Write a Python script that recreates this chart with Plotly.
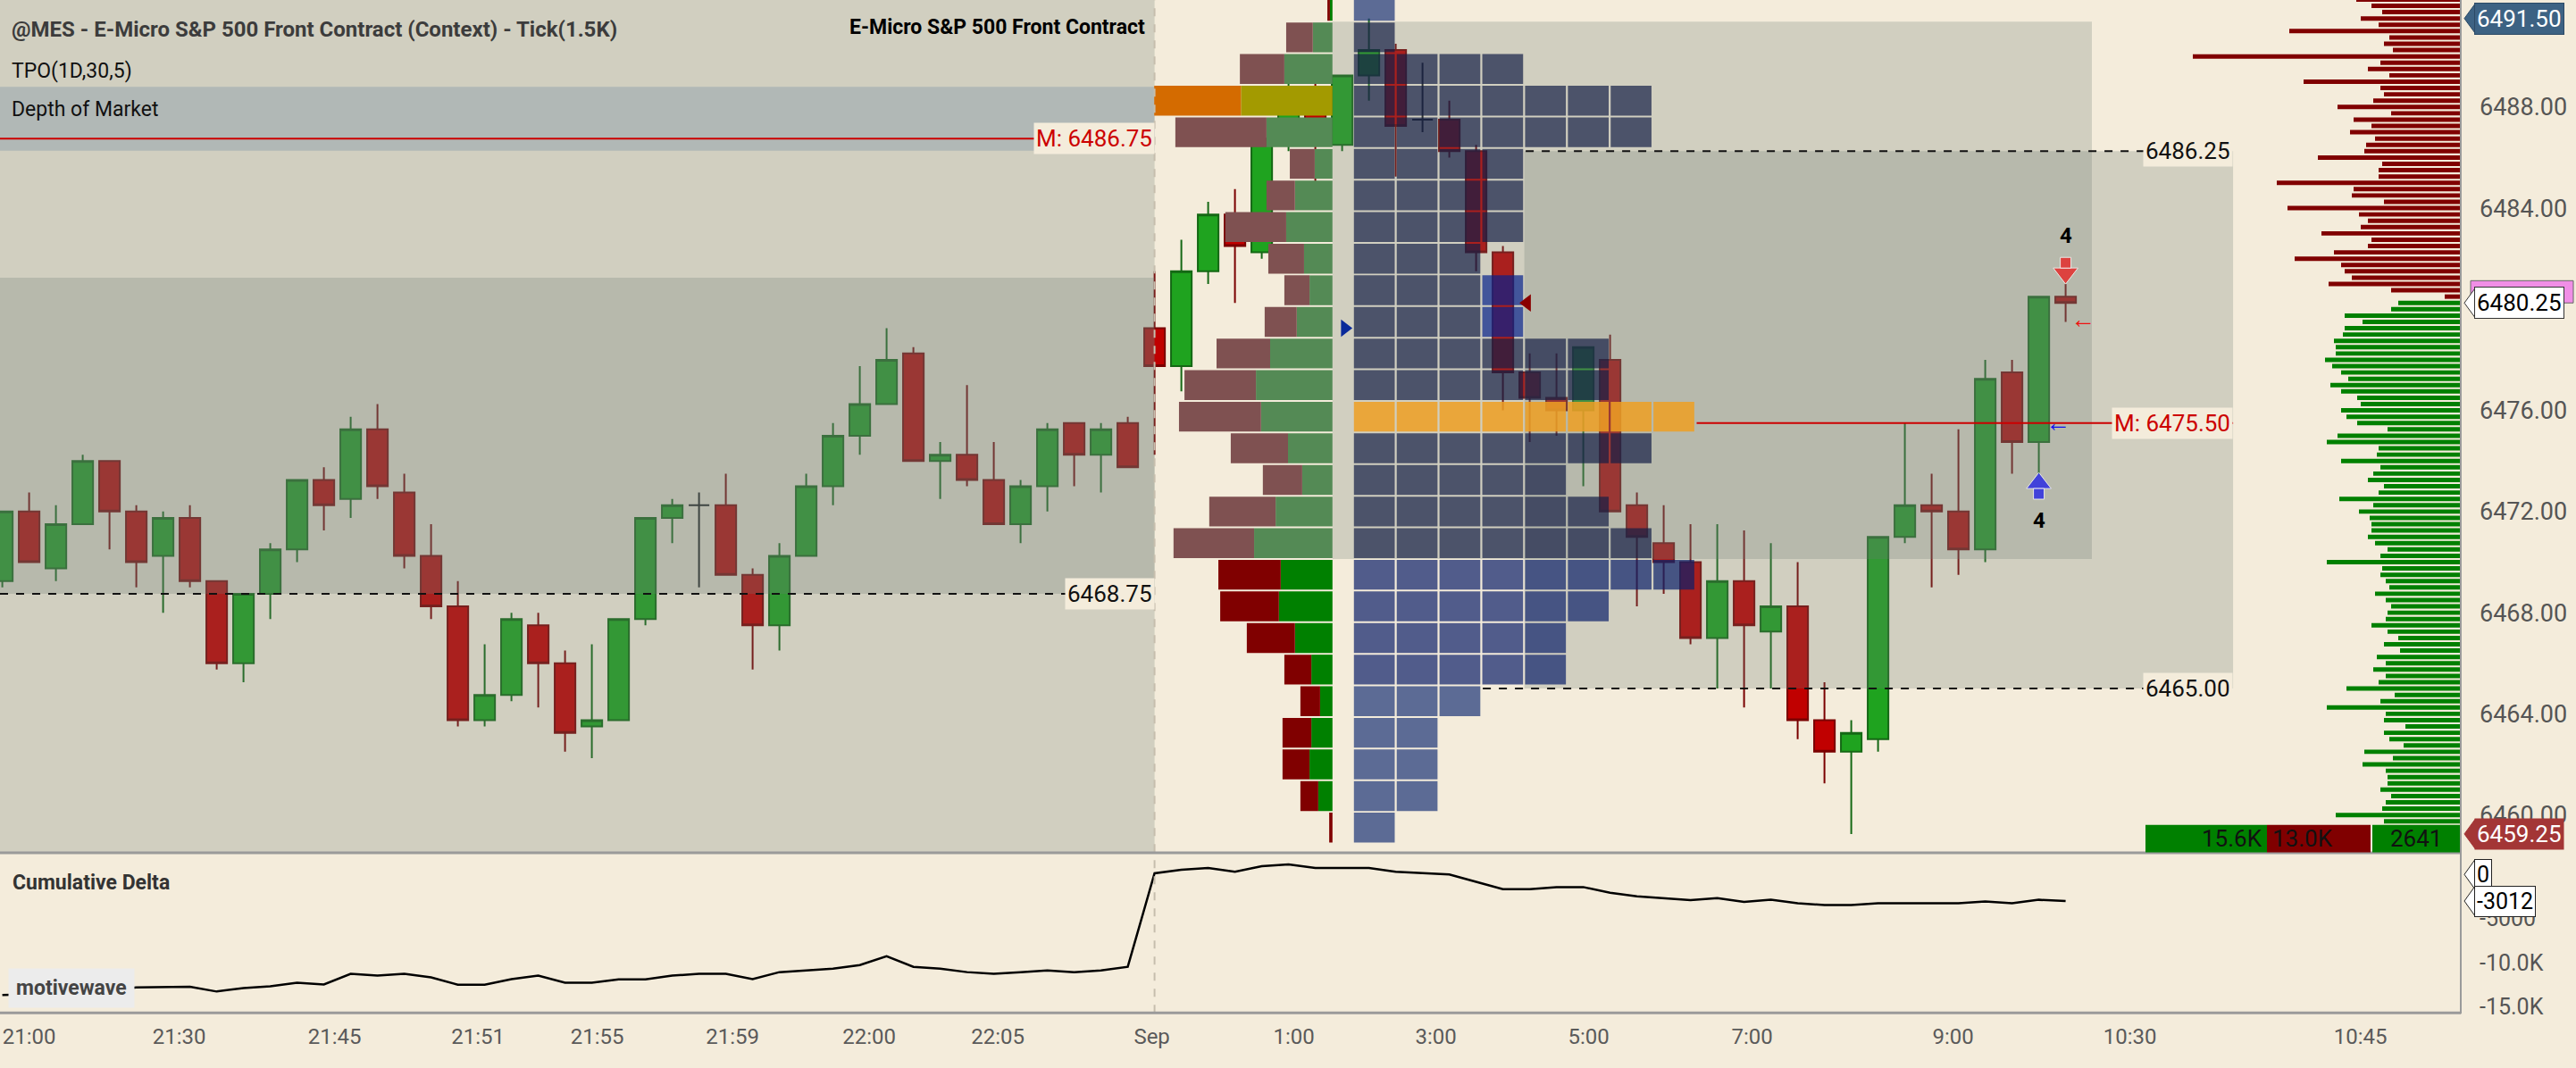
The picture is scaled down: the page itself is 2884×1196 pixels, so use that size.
import plotly.graph_objects as go

# ---- 1.5K tick bars (index 0 = first bar on screen) ----
OPEN = [6469.25, 6472.0, 6469.75, 6471.5, 6474.0, 6472.0, 6470.25, 6471.75, 6469.25, 6466.0,
        6468.75, 6470.5, 6473.25, 6472.5, 6475.25, 6472.75, 6470.25, 6468.25, 6463.75, 6464.75,
        6467.5, 6466.0, 6463.5, 6463.75, 6467.75, 6471.75, 6472.25, 6472.25, 6469.5, 6467.5,
        6470.25, 6473.0, 6475.0, 6476.25, 6478.25, 6474.0, 6474.25, 6473.25, 6471.5, 6473.0,
        6475.5, 6474.25, 6475.5, 6479.25, 6477.75, 6481.5, 6483.75, 6482.25, 6486.5, 6488.5,
        6486.5, 6489.25, 6490.25, 6487.5, 6487.5, 6486.25, 6482.25, 6477.5, 6476.5, 6476.0,
        6478.0, 6472.25, 6470.75, 6470.0, 6467.0, 6469.25, 6467.25, 6468.25, 6463.75, 6462.5,
        6463.0, 6471.0, 6472.25, 6472.0, 6470.5, 6477.5, 6474.75, 6480.5]
HIGH = [6472.0, 6472.75, 6472.25, 6474.25, 6474.0, 6472.25, 6472.0, 6472.25, 6469.25, 6468.75,
        6470.75, 6473.25, 6473.75, 6475.75, 6476.25, 6473.5, 6471.5, 6469.25, 6466.75, 6468.0,
        6468.0, 6466.5, 6466.75, 6467.75, 6471.75, 6472.5, 6472.75, 6473.5, 6469.75, 6470.75,
        6473.5, 6475.5, 6477.75, 6479.25, 6478.5, 6474.75, 6477.0, 6474.75, 6473.25, 6475.5,
        6475.5, 6475.5, 6475.75, 6481.5, 6482.75, 6484.25, 6484.75, 6487.0, 6489.0, 6489.0,
        6489.25, 6491.5, 6490.5, 6489.75, 6488.25, 6486.5, 6482.5, 6478.25, 6478.25, 6478.5,
        6479.0, 6472.75, 6472.25, 6471.5, 6471.5, 6471.25, 6470.75, 6470.0, 6465.25, 6463.75,
        6471.0, 6475.5, 6473.5, 6475.25, 6478.0, 6478.0, 6480.5, 6481.0]
LOW = [6469.0, 6470.0, 6469.25, 6471.5, 6470.5, 6469.0, 6468.0, 6469.0, 6465.75, 6465.25,
       6467.75, 6470.0, 6471.25, 6471.75, 6472.5, 6469.75, 6467.75, 6463.5, 6463.5, 6464.5,
       6464.25, 6462.5, 6462.25, 6463.75, 6467.5, 6470.75, 6469.0, 6469.5, 6465.75, 6466.5,
       6470.25, 6472.25, 6474.25, 6476.25, 6474.0, 6472.5, 6473.0, 6471.5, 6470.75, 6472.0,
       6473.0, 6472.75, 6473.75, 6474.25, 6476.75, 6481.0, 6480.25, 6482.0, 6486.25, 6484.0,
       6486.25, 6488.25, 6485.25, 6487.0, 6486.0, 6481.5, 6476.0, 6474.75, 6475.0, 6473.0,
       6472.0, 6468.25, 6468.75, 6466.75, 6465.0, 6464.25, 6465.0, 6463.0, 6461.25, 6459.25,
       6462.5, 6470.75, 6469.0, 6469.5, 6470.0, 6473.5, 6473.5, 6479.5]
CLOSE = [6472.0, 6470.0, 6471.5, 6474.0, 6472.0, 6470.0, 6471.75, 6469.25, 6466.0, 6468.75,
         6470.5, 6473.25, 6472.25, 6475.25, 6473.0, 6470.25, 6468.25, 6463.75, 6464.75, 6467.75,
         6466.0, 6463.25, 6463.75, 6467.75, 6471.75, 6472.25, 6472.25, 6469.5, 6467.5, 6470.25,
         6473.0, 6475.0, 6476.25, 6478.0, 6474.0, 6474.25, 6473.25, 6471.5, 6473.0, 6475.25,
         6474.25, 6475.25, 6473.75, 6477.75, 6481.5, 6483.75, 6482.5, 6486.75, 6488.5, 6486.5,
         6489.25, 6490.25, 6487.25, 6487.5, 6486.25, 6482.25, 6477.5, 6476.5, 6476.0, 6478.5,
         6472.0, 6471.0, 6470.0, 6467.0, 6469.25, 6467.5, 6468.25, 6463.75, 6462.5, 6463.25,
         6471.0, 6472.25, 6472.0, 6470.5, 6477.25, 6474.75, 6480.5, 6480.25]
DOJI_BARS = [26, 53]

CUM_DELTA = [-13670, -13600, -13500, -13350, -13150, -12800, -12730, -12730, -13270, -12870,
             -12670, -12270, -12470, -11270, -11470, -11270, -11670, -12500, -12500, -11870,
             -11470, -12270, -12270, -11900, -11900, -11470, -11270, -11270, -11870, -11070,
             -10870, -10670, -10270, -9270, -10470, -10670, -11070, -11270, -11070, -10870,
             -11070, -10870, -10470, 130, 530, 730, 300, 930, 1130, 730,
             730, 730, 300, 170, 0, -830, -1670, -1670, -1430, -1430,
             -2070, -2470, -2700, -2900, -2670, -3100, -2870, -3270, -3470, -3470,
             -3270, -3270, -3270, -3270, -3070, -3270, -2870, -3012]

TIME_TICK_POS = [1.0, 6.6, 12.4, 17.75, 22.2, 27.25, 32.35, 37.15, 42.9, 48.2, 53.5, 59.2, 65.3, 72.8, 79.4, 88.0]
TIME_TICK_TEXT = ["21:00", "21:30", "21:45", "21:51", "21:55", "21:59", "22:00", "22:05", "Sep",
                  "1:00", "3:00", "5:00", "7:00", "9:00", "10:30", "10:45"]
PRICE_TICKS = [6460, 6464, 6468, 6472, 6476, 6484, 6488]   # 6480 sits under the last-price tag
DELTA_TICKS = [-5000, -10000, -15000]
DELTA_TICK_TEXT = ["-5000", "-10.0K", "-15.0K"]

# ---- session volume profile / TPO, 1.25 pt rows from the top ----
PROFILE_TOP = 6492.0
PROFILE_ROW = 1.25
PROFILE_SELL = [14, 146, 244, 476, 500, 136, 156, 334, 196, 138, 176, 294, 392, 450,
                314, 216, 364, 442, 342, 322, 264, 148, 108, 158, 148, 98, 18]
PROFILE_BUY = [14, 108, 264, 502, 362, 98, 206, 254, 156, 126, 196, 342, 420, 392,
               244, 166, 312, 430, 284, 294, 206, 116, 68, 116, 126, 78, 0]
PROFILE_POC = 6488.25
PROFILE_VAH = 6490.75
PROFILE_VAL = 6470.75
TPO_COUNTS = [1, 1, 4, 7, 7, 4, 4, 4, 3, 4, 4, 6, 6, 8, 7, 5, 6, 7, 8, 6, 5, 5, 3, 2, 2, 2, 1]
TPO_POC = 6475.75
TPO_HILITE = [(6480.75, 3), (6479.5, 3)]

# ---- depth of market, 0.25 pt ladder from the top ----
ASK_TOP = 6492.25
ASK_SIZES = [117, 100, 88, 112, 92, 192, 80, 86, 76, 300, 90, 104, 80, 176, 90, 86, 98, 138, 78, 120,
             100, 124, 96, 106, 108, 160, 88, 92, 92, 206, 120, 122, 86, 194, 114, 104, 112, 156, 100, 104,
             142, 186, 134, 130, 122, 148, 78, 18]
BID_TOP = 6480.25
BID_SIZES = [70, 78, 130, 110, 130, 132, 142, 140, 140, 152, 144, 134, 126, 146, 134, 116, 112, 134, 128, 116,
             82, 138, 150, 92, 94, 134, 90, 98, 104, 86, 92, 136, 98, 114,
             102, 100, 100, 104, 96, 82, 90, 150, 88, 90, 84, 80, 96, 84, 78, 82, 84, 100, 82, 70, 86,
             68, 94, 84, 98, 84, 92, 128, 74, 90, 150, 84, 86, 62, 86, 80, 64, 108, 76, 110, 84, 82, 82,
             90, 78, 84, 88, 140, 86]
DOM_TOTALS = ["15.6K", "13.0K", "2641"]

# ---- levels ----
PRIOR_VAH, PRIOR_VAL, PRIOR_MID = 6481.25, 6468.75, 6486.75
VAH, VAL, MID = 6486.25, 6465.0, 6475.5
DAY_HIGH, DAY_LOW, LAST = 6491.5, 6459.25, 6480.25
SIGNALS = [(76, "buy", "4"), (77, "sell", "4")]

# ---- geometry / style ----
W, H = 2884, 1196
PLOT_W = 2755
BAR_PX, BAR0_PX = 30.0, 2.6
X_RANGE = [-BAR0_PX / BAR_PX, (PLOT_W - BAR0_PX) / BAR_PX]
PRICE_RANGE = [6458.52, 6492.23]
DELTA_RANGE = [-15700, 2300]
SESSION_SPLIT = 43.0
PROFILE_RIGHT = 49.64
PROFILE_PX_PER_VOL = 1 / 4.9
ZONE_A_RIGHT = 77.98
ZONE_B = (56.8, 83.25)
TPO_X0, TPO_PITCH, TPO_W = 50.44, 1.597, 1.523
DOM_PX_PER_LOT = 1.0
FONT = "Roboto"
CREAM = "#f4ecdb"
SHADE = "rgba(107,124,116,0.26)"
PX_TOP = lambda px: 1 - px / H

fig = go.Figure()

# candles
reg = [i for i in range(len(OPEN)) if i not in DOJI_BARS]
fig.add_trace(go.Candlestick(
    x=reg, open=[OPEN[i] for i in reg], high=[HIGH[i] for i in reg],
    low=[LOW[i] for i in reg], close=[CLOSE[i] for i in reg],
    increasing=dict(fillcolor="#1fa31f", line=dict(color="#146814", width=2)),
    decreasing=dict(fillcolor="#c00000", line=dict(color="#7a0000", width=2)),
    whiskerwidth=0, hoverinfo="skip", showlegend=False, xaxis="x", yaxis="y"))
fig.add_trace(go.Candlestick(
    x=DOJI_BARS, open=[OPEN[i] for i in DOJI_BARS], high=[HIGH[i] for i in DOJI_BARS],
    low=[LOW[i] for i in DOJI_BARS], close=[CLOSE[i] for i in DOJI_BARS],
    increasing=dict(fillcolor="#1a1a1a", line=dict(color="#1a1a1a", width=2)),
    decreasing=dict(fillcolor="#1a1a1a", line=dict(color="#1a1a1a", width=2)),
    whiskerwidth=0, hoverinfo="skip", showlegend=False, xaxis="x", yaxis="y"))


def box(x0, x1, y0, y1):
    return [x0, x1, x1, x0, x0, None], [y0, y0, y1, y1, y0, None]


def fill_trace(xs, ys, color):
    return go.Scatter(x=xs, y=ys, mode="lines", fill="toself", fillcolor=color,
                      line=dict(width=0), hoverinfo="skip", showlegend=False,
                      xaxis="x", yaxis="y")


# value area shading (semi transparent, stacks where zones overlap)
half = PROFILE_ROW / 2
zones = [
    (X_RANGE[0], SESSION_SPLIT, PRICE_RANGE[0], PRICE_RANGE[1]),
    (X_RANGE[0], SESSION_SPLIT, PRIOR_VAL, PRIOR_VAH),
    (PROFILE_RIGHT, ZONE_A_RIGHT, PROFILE_VAL - half, PROFILE_VAH + half),
    (ZONE_B[0], ZONE_B[1], VAL, VAH),
]
for z in zones:
    xs, ys = box(*z)
    fig.add_trace(fill_trace(xs, ys, SHADE))

# TPO blocks
rows = [PROFILE_TOP - i * PROFILE_ROW for i in range(len(TPO_COUNTS))]
groups = {}
for p, n in zip(rows, TPO_COUNTS):
    for c in range(n):
        if p == TPO_POC:
            col = "rgba(238,160,36,0.86)"
        elif (p, c) in TPO_HILITE:
            col = "rgba(5,33,140,0.7)"
        elif PROFILE_VAL <= p <= PROFILE_VAH:
            col = "rgba(20,30,70,0.7)"
        elif VAL < p < PROFILE_VAL:
            col = "rgba(12,32,105,0.7)"
        else:
            col = "rgba(27,52,119,0.7)"
        x0 = TPO_X0 + c * TPO_PITCH
        xs, ys = box(x0, x0 + TPO_W, p - 0.59, p + 0.59)
        gx, gy = groups.setdefault(col, ([], []))
        gx.extend(xs)
        gy.extend(ys)
for col, (gx, gy) in groups.items():
    fig.add_trace(fill_trace(gx, gy, col))


def hline(x0, x1, y, color, dash=None, width=2):
    fig.add_trace(go.Scatter(x=[x0, x1], y=[y, y], mode="lines",
                             line=dict(color=color, width=width, dash=dash),
                             hoverinfo="skip", showlegend=False, xaxis="x", yaxis="y"))


hline(X_RANGE[0], SESSION_SPLIT, PRIOR_VAL, "#111111", "dash")
hline(X_RANGE[0], SESSION_SPLIT, PRIOR_MID, "#cc0000")
hline(56.85, ZONE_B[1], VAH, "#111111", "dash")
hline(55.25, ZONE_B[1], VAL, "#111111", "dash")
hline(63.23, ZONE_B[1], MID, "#cc0000")

# profile / session markers
fig.add_trace(go.Scatter(x=[50.1], y=[6479.25], mode="markers",
                         marker=dict(symbol="triangle-right", size=17, color="#0a2a9a"),
                         hoverinfo="skip", showlegend=False, xaxis="x", yaxis="y"))
fig.add_trace(go.Scatter(x=[56.9], y=[6480.25], mode="markers",
                         marker=dict(symbol="triangle-left", size=17, color="#8a0000"),
                         hoverinfo="skip", showlegend=False, xaxis="x", yaxis="y"))

# signal arrows
for k, kind, txt in SIGNALS:
    if kind == "buy":
        ys = [LOW[k] - 0.38, LOW[k] - 0.8]
        ty, col, sym = LOW[k] - 1.85, "#1010ee", "triangle-up"
    else:
        ys = [HIGH[k] + 0.42, HIGH[k] + 0.84]
        ty, col, sym = HIGH[k] + 1.9, "#ee1111", "triangle-down"
    fig.add_trace(go.Scatter(x=[k, k], y=ys, mode="markers",
                             marker=dict(symbol=[sym, "square"], size=[24, 12], color=col),
                             hoverinfo="skip", showlegend=False, xaxis="x", yaxis="y"))
    fig.add_annotation(x=k, y=ty, xref="x", yref="y", text="<b>" + txt + "</b>", showarrow=False,
                       font=dict(family=FONT, size=24, color="#000000"))

# volume profile (drawn above candles)
prof_sell_col, prof_buy_col = [], []
for p in rows:
    if p == PROFILE_POC:
        prof_sell_col.append("#d46b00")
        prof_buy_col.append("#a39a00")
    elif PROFILE_VAL <= p <= PROFILE_VAH and p != PROFILE_TOP:
        prof_sell_col.append("#7f5151")
        prof_buy_col.append("#548a55")
    else:
        prof_sell_col.append("#800000")
        prof_buy_col.append("#008000")
fig.add_trace(go.Bar(y=rows, x=PROFILE_BUY, base=[0] * len(rows), orientation="h",
                     width=PROFILE_ROW - 0.07, marker=dict(color=prof_buy_col, line=dict(width=0)),
                     hoverinfo="skip", showlegend=False, xaxis="x2", yaxis="y"))
fig.add_trace(go.Bar(y=rows, x=PROFILE_SELL, base=PROFILE_BUY, orientation="h",
                     width=PROFILE_ROW - 0.07, marker=dict(color=prof_sell_col, line=dict(width=0)),
                     hoverinfo="skip", showlegend=False, xaxis="x2", yaxis="y"))

# depth of market ladder
ask_prices = [ASK_TOP - 0.25 * i for i in range(len(ASK_SIZES))]
bid_prices = [BID_TOP - 0.25 * i for i in range(len(BID_SIZES))]
fig.add_trace(go.Bar(y=ask_prices, x=ASK_SIZES, orientation="h", width=0.175,
                     marker=dict(color="#800000", line=dict(width=0)),
                     hoverinfo="skip", showlegend=False, xaxis="x3", yaxis="y"))
fig.add_trace(go.Bar(y=bid_prices, x=BID_SIZES, orientation="h", width=0.175,
                     marker=dict(color="#008000", line=dict(width=0)),
                     hoverinfo="skip", showlegend=False, xaxis="x3", yaxis="y"))

# cumulative delta
fig.add_trace(go.Scatter(x=list(range(len(CUM_DELTA))), y=CUM_DELTA, mode="lines",
                         line=dict(color="#000000", width=2.5), hoverinfo="skip",
                         showlegend=False, xaxis="x4", yaxis="y2"))

# ---- shapes ----
plot_r = PLOT_W / W
tag_x0, tag_x1 = 2759 / W, 2771 / W


def tag_tip(y, dy, fill, line, yref="y"):
    return dict(type="path", xref="paper", yref=yref,
                path=f"M {tag_x0},{y} L {tag_x1},{y + dy} L {tag_x1},{y - dy} Z",
                fillcolor=fill, line=dict(color=line, width=1))


shapes = [
    dict(type="rect", xref="x", yref="y", x0=X_RANGE[0], x1=SESSION_SPLIT, y0=6486.27, y1=6488.8,
         fillcolor="#c9cece", line=dict(width=0), layer="below"),
    dict(type="line", xref="x", yref="paper", x0=SESSION_SPLIT, x1=SESSION_SPLIT,
         y0=PX_TOP(1142), y1=1, line=dict(color="#c6bead", width=2, dash="dash")),
    dict(type="line", xref="paper", yref="paper", x0=0, x1=plot_r, y0=PX_TOP(961.5), y1=PX_TOP(961.5),
         line=dict(color="#9a9a9a", width=3)),
    dict(type="line", xref="paper", yref="paper", x0=0, x1=plot_r, y0=PX_TOP(1142), y1=PX_TOP(1142),
         line=dict(color="#9a9a9a", width=3)),
    dict(type="line", xref="paper", yref="paper", x0=plot_r, x1=plot_r, y0=PX_TOP(1143), y1=1,
         line=dict(color="#9a9a9a", width=2)),
    dict(type="rect", xref="paper", yref="paper", x0=2402 / W, x1=2538 / W, y0=PX_TOP(961), y1=PX_TOP(930),
         fillcolor="#008000", line=dict(width=0)),
    dict(type="rect", xref="paper", yref="paper", x0=2538 / W, x1=2654 / W, y0=PX_TOP(961), y1=PX_TOP(930),
         fillcolor="#800000", line=dict(width=0)),
    dict(type="rect", xref="paper", yref="paper", x0=2656 / W, x1=2754 / W, y0=PX_TOP(961), y1=PX_TOP(930),
         fillcolor="#008000", line=dict(width=0)),
    # pink marker peeking above the last-price tag
    dict(type="rect", xref="paper", yref="y", x0=2766 / W, x1=2881 / W, y0=LAST, y1=LAST + 0.88,
         fillcolor="#f08ee6", line=dict(color="#666666", width=1)),
    tag_tip(DAY_HIGH, 0.58, "#3d6283", "#2c4a66"),
    tag_tip(LAST, 0.58, "#ffffff", "#333333"),
    tag_tip(DAY_LOW, 0.58, "#a33636", "#a33636"),
    tag_tip(0, 1700, "#ffffff", "#222222", "y2"),
    tag_tip(CUM_DELTA[-1], 1700, "#ffffff", "#222222", "y2"),
]
fig.update_layout(shapes=shapes)


# ---- annotations ----
def label(x, y, text, color="#111111", xref="x", yref="y", xanchor="right", bg=CREAM, size=26,
          pad=2, **kw):
    fig.add_annotation(x=x, y=y, xref=xref, yref=yref, text=text, showarrow=False,
                       xanchor=xanchor, yanchor="middle", bgcolor=bg, borderpad=pad,
                       font=dict(family=FONT, size=size, color=color), **kw)


label(SESSION_SPLIT, PRIOR_VAL, f"{PRIOR_VAL:.2f}")
label(SESSION_SPLIT, PRIOR_MID, f"M: {PRIOR_MID:.2f}", color="#cc0000")
label(ZONE_B[1], VAH, f"{VAH:.2f}")
label(ZONE_B[1], VAL, f"{VAL:.2f}")
label(ZONE_B[1], MID, f"M: {MID:.2f}", color="#cc0000")
label(77.65, 6479.6, "←", color="#ee1111", xanchor="center", bg="rgba(0,0,0,0)", size=28)
label(76.7, MID, "←", color="#1010ee", xanchor="center", bg="rgba(0,0,0,0)", size=28)

# price axis tags
tag_x = 2770 / W
label(tag_x, DAY_HIGH, f"{DAY_HIGH:.2f}", color="#ffffff", xref="paper", xanchor="left",
      bg="#3d6283", size=26, bordercolor="#2c4a66", borderwidth=1)
label(tag_x, LAST, f"{LAST:.2f}", color="#000000", xref="paper", xanchor="left",
      bg="#ffffff", size=26, bordercolor="#333333", borderwidth=1)
label(tag_x, DAY_LOW, f"{DAY_LOW:.2f}", color="#ffffff", xref="paper", xanchor="left",
      bg="#a33636", size=26)
label(tag_x, 0, "0", color="#000000", xref="paper", yref="y2", xanchor="left",
      bg="#ffffff", size=25, bordercolor="#222222", borderwidth=1)
label(tag_x, CUM_DELTA[-1], str(CUM_DELTA[-1]), color="#000000", xref="paper", yref="y2",
      xanchor="left", bg="#ffffff", size=25, bordercolor="#222222", borderwidth=1)

# DOM totals
label(2536 / W, PX_TOP(945), DOM_TOTALS[0], xref="paper", yref="paper", bg="rgba(0,0,0,0)")
label(2541 / W, PX_TOP(945), DOM_TOTALS[1], xref="paper", yref="paper", xanchor="left", bg="rgba(0,0,0,0)")
label(2705 / W, PX_TOP(945), DOM_TOTALS[2], xref="paper", yref="paper", xanchor="center", bg="rgba(0,0,0,0)")

# panel titles
label(10 / W, PX_TOP(33), "<b>@MES - E-Micro S&P 500 Front Contract (Context) - Tick(1.5K)</b>",
      color="#3c3c3c", xref="paper", yref="paper", xanchor="left", bg="rgba(0,0,0,0)", size=24)
label(1285 / W, PX_TOP(31), "<b>E-Micro S&P 500 Front Contract</b>", color="#000000",
      xref="paper", yref="paper", bg="rgba(0,0,0,0)", size=23)
label(10 / W, PX_TOP(80), "TPO(1D,30,5)", color="#111111", xref="paper", yref="paper",
      xanchor="left", bg="rgba(0,0,0,0)", size=23)
label(10 / W, PX_TOP(123), "Depth of Market", color="#111111", xref="paper", yref="paper",
      xanchor="left", bg="rgba(0,0,0,0)", size=23)
label(11 / W, PX_TOP(995), "<b>Cumulative Delta</b>", color="#333333", xref="paper", yref="paper",
      xanchor="left", bg="rgba(0,0,0,0)", size=23)
label(9 / W, PX_TOP(1114), "<b>motivewave</b>", color="#444444", xref="paper", yref="paper",
      xanchor="left", bg="#ececec", size=23, pad=8)

# ---- axes ----
prof_px = BAR0_PX + PROFILE_RIGHT * BAR_PX
fig.update_layout(
    width=W, height=H, margin=dict(l=0, r=0, t=0, b=0),
    paper_bgcolor=CREAM, plot_bgcolor=CREAM,
    barmode="overlay", boxgap=0.23, boxgroupgap=0, hovermode=False, showlegend=False,
    font=dict(family=FONT),
    xaxis=dict(domain=[0, plot_r], range=X_RANGE, anchor="y", visible=False,
               rangeslider=dict(visible=False)),
    xaxis2=dict(overlaying="x", anchor="y", visible=False,
                range=[prof_px / PROFILE_PX_PER_VOL, (prof_px - PLOT_W) / PROFILE_PX_PER_VOL]),
    xaxis3=dict(overlaying="x", anchor="y", visible=False,
                range=[PLOT_W / DOM_PX_PER_LOT, 0]),
    xaxis4=dict(domain=[0, plot_r], range=X_RANGE, anchor="y2", showgrid=False, zeroline=False,
                tickvals=TIME_TICK_POS, ticktext=TIME_TICK_TEXT, ticks="", ticklabelstandoff=10,
                tickfont=dict(family=FONT, size=24, color="#5a5a5a")),
    yaxis=dict(domain=[PX_TOP(961), 1], range=PRICE_RANGE, anchor="x", side="right",
               showgrid=False, zeroline=False, ticks="",
               tickvals=PRICE_TICKS, ticktext=[f"{v:.2f}" for v in PRICE_TICKS],
               ticklabelstandoff=20, tickfont=dict(family=FONT, size=27, color="#555555")),
    yaxis2=dict(domain=[PX_TOP(1142), PX_TOP(963)], range=DELTA_RANGE, anchor="x4", side="right",
                showgrid=False, zeroline=False, ticks="",
                tickvals=DELTA_TICKS, ticktext=DELTA_TICK_TEXT,
                ticklabelstandoff=20, tickfont=dict(family=FONT, size=25, color="#555555")),
)

# drop the default page margin so the chart sits at the window's top-left corner
fig.write_html("out.html", config={"displayModeBar": False},
               post_script="document.body.style.margin='0';")
